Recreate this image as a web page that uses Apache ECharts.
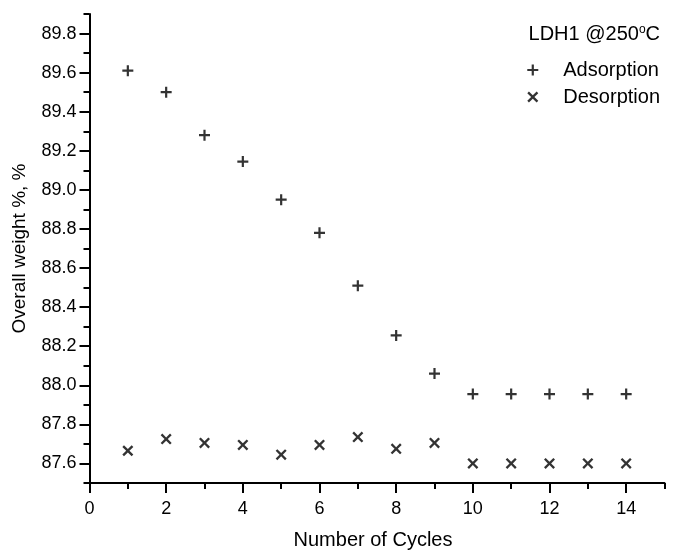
<!DOCTYPE html>
<html>
<head>
<meta charset="utf-8">
<script src="https://cdn.jsdelivr.net/npm/echarts@6/dist/echarts.min.js"></script>
<style>
  html, body { margin: 0; padding: 0; background: #fff; }
  #chart { width: 673px; height: 555px; }
</style>
</head>
<body>
<div id="chart"></div>
<script>
// Cycle numbers and measured overall weight (%) after each adsorption / desorption step
const cycles = [1, 2, 3, 4, 5, 6, 7, 8, 9, 10, 11, 12, 13, 14];
const adsorption = [89.61, 89.50, 89.28, 89.145, 88.95, 88.78, 88.51, 88.255, 88.06, 87.955, 87.955, 87.955, 87.955, 87.955];
const desorption = [87.665, 87.725, 87.705, 87.695, 87.645, 87.695, 87.735, 87.675, 87.705, 87.60, 87.60, 87.60, 87.60, 87.60];

// Axis ticks
const xMajor = [0, 2, 4, 6, 8, 10, 12, 14];
const xMinor = [1, 3, 5, 7, 9, 11, 13, 15];
const yMajor = [87.6, 87.8, 88.0, 88.2, 88.4, 88.6, 88.8, 89.0, 89.2, 89.4, 89.6, 89.8];
const yMinor = [87.5, 87.7, 87.9, 88.1, 88.3, 88.5, 88.7, 88.9, 89.1, 89.3, 89.5, 89.7, 89.9];

const FONT = 'Liberation Sans, Arial, sans-serif';
const INK = '#000';

// Filled outlines for the "+" and "×" markers
const PLUS = 'path://M4,0H6V4H10V6H6V10H4V6H0V4H4Z';
const CROSS = 'path://M0,1.5L1.5,0L5,3.5L8.5,0L10,1.5L6.5,5L10,8.5L8.5,10L5,6.5L1.5,10L0,8.5L3.5,5Z';

const pairs = (ys) => cycles.map((c, i) => [c, ys[i]]);

const chart = echarts.init(document.getElementById('chart'), null, { renderer: 'canvas' });

const baseX = { type: 'value', min: 0, max: 15, gridIndex: 0, splitLine: { show: false } };
const baseY = { type: 'value', min: 87.5, max: 89.9, gridIndex: 0, splitLine: { show: false } };

chart.setOption({
  animation: false,
  backgroundColor: '#fff',
  textStyle: { fontFamily: FONT, color: INK },
  grid: { left: 89.5, top: 14, width: 575, height: 469.6, containLabel: false },
  title: {
    text: 'LDH1 @250{sup|o}C',
    right: 8,
    top: 19,
    textStyle: {
      fontFamily: FONT, fontSize: 20, fontWeight: 'normal', color: INK,
      rich: { sup: { fontFamily: FONT, fontSize: 12, color: INK, verticalAlign: 'top', padding: [0, 0, 9, 0] } }
    }
  },
  legend: {
    orient: 'vertical',
    right: 8,
    top: 55,
    itemWidth: 11,
    itemHeight: 11,
    itemGap: 7,
    textStyle: { fontFamily: FONT, fontSize: 20, color: INK, padding: [0, 0, 0, 20] },
    data: [
      { name: 'Adsorption', icon: PLUS },
      { name: 'Desorption', icon: CROSS }
    ]
  },
  xAxis: [
    Object.assign({}, baseX, {
      name: 'Number of Cycles',
      nameLocation: 'middle',
      nameGap: 47,
      nameTextStyle: { fontFamily: FONT, fontSize: 20, color: INK, padding: [0, 8, 0, 0] },
      axisLine: { show: true, onZero: false, lineStyle: { color: INK, width: 2 } },
      axisTick: { show: true, customValues: xMajor, length: 10, lineStyle: { color: INK, width: 2 } },
      axisLabel: { show: true, customValues: xMajor, margin: 17, fontFamily: FONT, fontSize: 18, color: INK }
    }),
    Object.assign({}, baseX, {
      position: 'bottom',
      offset: 0,
      axisLine: { show: false },
      axisTick: { show: true, customValues: xMinor, length: 6, lineStyle: { color: INK, width: 2 } },
      axisLabel: { show: false }
    })
  ],
  yAxis: [
    Object.assign({}, baseY, {
      name: 'Overall weight %, %',
      nameLocation: 'middle',
      nameGap: 60,
      nameRotate: 90,
      nameTextStyle: { fontFamily: FONT, fontSize: 19, color: INK },
      axisLine: { show: true, onZero: false, lineStyle: { color: INK, width: 2 } },
      axisTick: { show: true, customValues: yMajor, length: 10, lineStyle: { color: INK, width: 2 } },
      axisLabel: {
        show: true, customValues: yMajor, margin: 13, fontFamily: FONT, fontSize: 18, color: INK,
        formatter: (v) => v.toFixed(1)
      }
    }),
    Object.assign({}, baseY, {
      position: 'left',
      offset: 0,
      axisLine: { show: false },
      axisTick: { show: true, customValues: yMinor, length: 6, lineStyle: { color: INK, width: 2 } },
      axisLabel: { show: false }
    })
  ],
  series: [
    {
      name: 'Adsorption',
      type: 'scatter',
      xAxisIndex: 0,
      yAxisIndex: 0,
      symbol: PLUS,
      symbolSize: 11,
      itemStyle: { color: INK },
      data: pairs(adsorption)
    },
    {
      name: 'Desorption',
      type: 'scatter',
      xAxisIndex: 0,
      yAxisIndex: 0,
      symbol: CROSS,
      symbolSize: 11,
      itemStyle: { color: INK },
      data: pairs(desorption)
    }
  ]
});
</script>
</body>
</html>
